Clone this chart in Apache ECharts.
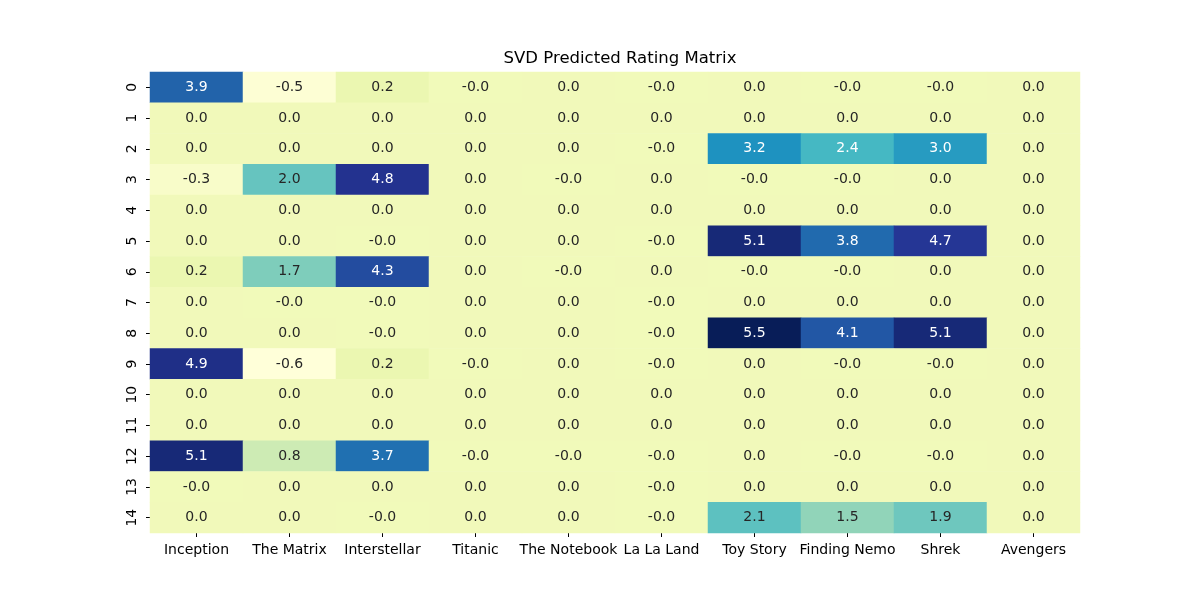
<!DOCTYPE html>
<html>
<head>
<meta charset="utf-8">
<script src="https://cdn.jsdelivr.net/npm/echarts@6/dist/echarts.min.js"></script>
<style>
  html, body { margin:0; padding:0; background:#fff; }
  #chart { width:1200px; height:600px; }
</style>
</head>
<body>
<div id="chart"></div>
<script>
const movies = ['Inception','The Matrix','Interstellar','Titanic','The Notebook','La La Land','Toy Story','Finding Nemo','Shrek','Avengers'];
const users = ['0','1','2','3','4','5','6','7','8','9','10','11','12','13','14'];
// -0.01 stands for the small negatives shown as "-0.0"
const ratings = [
    [3.9, -0.5, 0.2, -0.01, 0.0, -0.01, 0.0, -0.01, -0.01, 0.0],
    [0.0, 0.0, 0.0, 0.0, 0.0, 0.0, 0.0, 0.0, 0.0, 0.0],
    [0.0, 0.0, 0.0, 0.0, 0.0, -0.01, 3.2, 2.4, 3.0, 0.0],
    [-0.3, 2.0, 4.8, 0.0, -0.01, 0.0, -0.01, -0.01, 0.0, 0.0],
    [0.0, 0.0, 0.0, 0.0, 0.0, 0.0, 0.0, 0.0, 0.0, 0.0],
    [0.0, 0.0, -0.01, 0.0, 0.0, -0.01, 5.1, 3.8, 4.7, 0.0],
    [0.2, 1.7, 4.3, 0.0, -0.01, 0.0, -0.01, -0.01, 0.0, 0.0],
    [0.0, -0.01, -0.01, 0.0, 0.0, -0.01, 0.0, 0.0, 0.0, 0.0],
    [0.0, 0.0, -0.01, 0.0, 0.0, -0.01, 5.5, 4.1, 5.1, 0.0],
    [4.9, -0.6, 0.2, -0.01, 0.0, -0.01, 0.0, -0.01, -0.01, 0.0],
    [0.0, 0.0, 0.0, 0.0, 0.0, 0.0, 0.0, 0.0, 0.0, 0.0],
    [0.0, 0.0, 0.0, 0.0, 0.0, 0.0, 0.0, 0.0, 0.0, 0.0],
    [5.1, 0.8, 3.7, -0.01, -0.01, -0.01, 0.0, -0.01, -0.01, 0.0],
    [-0.01, 0.0, 0.0, 0.0, 0.0, -0.01, 0.0, 0.0, 0.0, 0.0],
    [0.0, 0.0, -0.01, 0.0, 0.0, -0.01, 2.1, 1.5, 1.9, 0.0]
];
const ylgnbu = ['#ffffd9','#edf8b1','#c7e9b4','#7fcdbb','#41b6c4','#1d91c0','#225ea8','#253494','#081d58'];

let cells = [];
ratings.forEach((row, r) => {
    row.forEach((v, c) => {
        cells.push({
            value: [c, r, v],
            label: { color: v >= 2.3 ? '#ffffff' : '#262626' }
        });
    });
});

const myChart = echarts.init(document.getElementById('chart'));
const font = 'DejaVu Sans';
let option = {
    animation: false,
    title: {
        text: 'SVD Predicted Rating Matrix',
        left: 615,
        textAlign: 'center',
        top: 45,
        textStyle: { fontFamily: font, fontSize: 16.5, fontWeight: 'normal', color: '#000' }
    },
    grid: { left: 150, right: 120, top: 72, bottom: 67 },
    xAxis: {
        type: 'category',
        data: movies,
        axisLine: { show: false },
        axisTick: { show: true, alignWithLabel: true, length: 4, lineStyle: { color: '#000' } },
        axisLabel: { fontFamily: font, fontSize: 14, color: '#000', margin: 10, interval: 0 },
        splitArea: { show: false }
    },
    yAxis: {
        type: 'category',
        data: users,
        inverse: true,
        axisLine: { show: false },
        axisTick: { show: true, alignWithLabel: true, length: 4, lineStyle: { color: '#000' } },
        axisLabel: { fontFamily: font, fontSize: 14, color: '#000', rotate: 90, margin: 11, interval: 0 },
        splitArea: { show: false }
    },
    visualMap: {
        show: false,
        min: -0.6,
        max: 5.5,
        dimension: 2,
        inRange: { color: ylgnbu }
    },
    series: [{
        type: 'heatmap',
        data: cells,
        label: {
            show: true,
            fontFamily: font,
            fontSize: 14,
            formatter: p => p.value[2].toFixed(1)
        },
        itemStyle: { borderWidth: 0 }
    }]
};
myChart.setOption(option);
</script>
</body>
</html>
